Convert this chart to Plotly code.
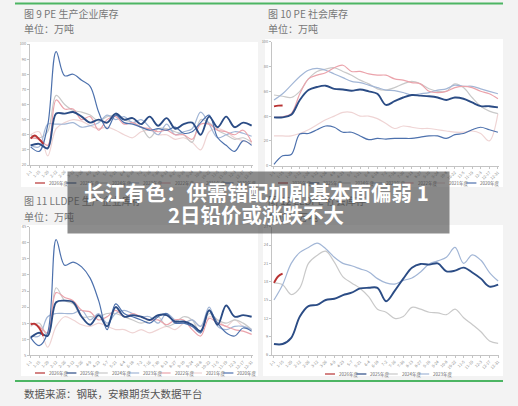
import plotly.graph_objects as go

W, H = 518, 406
FONT = "Noto Sans CJK SC"

# ---------------- data ----------------
weeks = list(range(1, 54, 2))          # 27 biweekly points
tick_labels = ["1-1", "1-15", "1-29", "2-12", "2-26", "3-12", "3-26", "4-9", "4-23",
               "5-7", "5-21", "6-4", "6-18", "7-2", "7-16", "7-30", "8-13", "8-27",
               "9-10", "9-24", "10-8", "10-22", "11-5", "11-19", "12-3", "12-17", "12-31"]

years7 = ["2026年度", "2025年度", "2024年度", "2023年度", "2022年度", "2021年度", "2020年度"]
years4 = ["2026年度", "2025年度", "2024年度", "2023年度"]

# Panel 1: PE production-enterprise inventory
p1_2026_weeks = [1, 2, 3, 4]
p1_2026 = [37.5, 39.5, 37, 34]
p1_2025 = [33, 34, 31, 54, 54, 55, 52, 48, 50, 48, 54, 50, 51, 47, 52, 46, 51, 44, 47, 48, 40, 52, 45, 52, 45, 48, 46]
p1_2024 = [40, 38, 42, 66, 60, 56, 55, 53, 49, 52, 53, 50, 48, 45, 38, 44, 44, 42, 40, 35, 50, 48, 43, 40, 37, 38, 35]
p1_2023 = [33, 32, 47, 47, 47, 48, 45, 46, 48, 53, 50, 52, 48, 50, 45, 40, 47, 40, 42, 44, 55, 47, 38, 40, 42, 41, 39]
p1_2022 = [38, 37, 33, 63, 57, 57, 50, 52, 43, 50, 52, 47, 48, 45, 44, 42, 43, 40, 40, 37, 47, 47, 43, 42, 40, 43, 35]
p1_2021 = [40, 42, 26, 44, 48, 50, 49, 46, 44, 45, 43, 40, 38, 42, 43, 40, 40, 37, 38, 35, 30, 42, 44, 42, 38, 36, 34]
p1_2020 = [32, 29, 46, 95, 79, 80, 76, 72, 55, 44, 53, 48, 47, 45, 43, 44, 43, 45, 41, 42, 48, 53, 38, 33, 29, 36, 33]

# Panel 2: PE social inventory
p2_2026_weeks = [1, 2, 3]
p2_2026 = [47.8, 48.4, 48.6]
p2_2025 = [39, 39, 41, 53, 61, 63.5, 64.5, 62, 61.5, 60.5, 61.5, 60, 58, 49, 52, 55, 57, 56.5, 56, 55, 53, 55, 54, 51, 48, 48, 47]
p2_2024 = [57, 56, 55, 60, 70, 76, 78, 79, 76, 73, 69, 66, 62, 61, 63, 66, 68, 66, 62, 60, 60, 66, 63, 55, 48, 44, 42]
p2_2023 = [53, 58, 65, 72, 77, 78.5, 77, 74, 71, 68, 67, 65, 63, 61, 60.5, 59, 57, 58, 59, 61, 62, 65, 64, 64, 62, 60, 58]
p2_2022 = [39, 39.5, 42, 58, 70, 73, 75, 79, 81, 76, 76, 74, 73, 73, 70, 69, 67, 66, 60, 59, 60, 63, 64, 63, 60, 58, 54]
p2_2021 = [24, 24, 24, 26, 29, 33, 37, 40, 43, 43, 40, 40, 38, 34, 30, 32, 31, 30, 30, 29, 28, 27, 27, 28, 26, 20, 42]
p2_2020 = [1, 8, 9, 25.5, 26, 29, 32, 31, 27, 27, 24, 21, 22, 21.5, 22, 22, 22, 23, 24, 24, 22, 25, 26, 29, 31, 29, 27]

# Panel 3: LLDPE production-enterprise inventory
p3_2026_weeks = [1, 2, 3, 4]
p3_2026 = [14.6, 14.8, 13.5, 11]
p3_2025 = [10.5, 12, 11, 21.5, 22, 21.5, 17, 14.5, 17.5, 14, 20, 17, 17.5, 17, 16, 17.5, 17.5, 15.5, 15.5, 14.5, 12.5, 19, 14.5, 20.5, 17, 17.5, 17]
p3_2024 = [14, 15, 11, 26, 22, 21, 17, 17, 17, 18, 18, 17, 16, 15, 16, 17, 14, 15, 17, 16, 12, 18, 16, 15, 16, 15, 13]
p3_2023 = [11, 11, 17, 18, 18, 18, 19, 16, 18, 15, 18, 19, 18, 17, 17, 15, 18, 16, 15, 16, 14, 20, 14, 13, 14, 14, 13]
p3_2022 = [15, 14, 12, 24.5, 23, 22, 19, 18.5, 16, 17, 19, 17, 18, 17, 16, 16, 14.5, 16, 16, 13, 11, 16.5, 15, 14, 13, 12.5, 11.5]
p3_2021 = [15, 14, 7.5, 14, 17, 16, 14.5, 14, 15, 14, 13, 13, 12, 13, 12, 13, 14, 13, 15, 16, 14, 17, 16, 14, 16, 14, 13]
p3_2020 = [10.5, 8, 12, 41, 33, 34, 32.5, 29, 22, 13, 21, 18, 17, 16, 15, 17, 18, 15, 15, 14, 12, 19, 15, 12, 11, 13.5, 12.5]

# Panel 4: LLDPE social inventory
p4_2026_weeks = [1, 2, 3]
p4_2026 = [17.8, 18.9, 19.3]
p4_2025 = [7.8, 7.8, 8.8, 12.3, 14, 14.2, 15, 15.2, 15.8, 16.2, 16.9, 17, 17, 14.8, 16.5, 18.5, 20.3, 20.9, 20.8, 21, 19.7, 19.8, 20.3, 19.5, 18.5, 17.2, 17.5]
p4_2024 = [17.8, 17.5, 15.9, 17, 21, 22.3, 23, 21.2, 18.8, 17.8, 16.9, 15.5, 13.5, 13, 12, 12.3, 13.8, 13.5, 13, 12.9, 12.6, 13.5, 12.1, 11, 9.8, 8.3, 7.9]
p4_2023 = [15, 17.5, 21, 22.8, 23.6, 24.3, 23.4, 22, 21, 20.6, 20.1, 19.6, 18.5, 17.8, 17.6, 18.2, 18.6, 19.6, 20.9, 21.4, 22, 23.6, 21, 22.4, 21.5, 19.5, 18.1]

titles = ["图 9 PE 生产企业库存", "图 10 PE 社会库存", "图 11 LLDPE 生产企业库存", "图 12 LLDPE 社会库存"]
unit_text = "单位：万吨"
source_text = "数据来源：钢联，安粮期货大数据平台"
headline = ["长江有色：供需错配加剧基本面偏弱 1", "2日铅价或涨跌不大"]

# ---------------- styles ----------------
colors = {"2026年度": "#b83232", "2025年度": "#2b4c85", "2024年度": "#c9c9c9",
          "2023年度": "#a2b6d6", "2022年度": "#eba3ab", "2021年度": "#efd4d4",
          "2020年度": "#4d71ad"}
widths = {"2026年度": 1.8, "2025年度": 1.8, "2024年default": 1.2}


def px(x):
    return x / W


def py(y):
    return 1 - y / H


fig = go.Figure()

panels = [
    dict(series={"2026年度": (p1_2026_weeks, p1_2026), "2025年度": (weeks, p1_2025),
                 "2024年度": (weeks, p1_2024), "2023年度": (weeks, p1_2023),
                 "2022年度": (weeks, p1_2022), "2021年度": (weeks, p1_2021),
                 "2020年度": (weeks, p1_2020)},
         xd=(30, 252.5), yd=(44, 165), yr=(20, 100), dt=10, xr=(0.85, 53.2),
         legend=years7, leg_x=35, leg_y=183),
    dict(series={"2026年度": (p2_2026_weeks, p2_2026), "2025年度": (weeks, p2_2025),
                 "2024年度": (weeks, p2_2024), "2023年度": (weeks, p2_2023),
                 "2022年度": (weeks, p2_2022), "2021年度": (weeks, p2_2021),
                 "2020年度": (weeks, p2_2020)},
         xd=(272, 499), yd=(41.7, 165.7), yr=(0, 100), dt=20, xr=(0.54, 53.25),
         legend=years7, leg_x=278, leg_y=183),
    dict(series={"2026年度": (p3_2026_weeks, p3_2026), "2025年度": (weeks, p3_2025),
                 "2024年度": (weeks, p3_2024), "2023年度": (weeks, p3_2023),
                 "2022年度": (weeks, p3_2022), "2021年度": (weeks, p3_2021),
                 "2020年度": (weeks, p3_2020)},
         xd=(30, 252.5), yd=(226.7, 355.3), yr=(5, 45), dt=5, xr=(0.85, 53.2),
         legend=years7, leg_x=35, leg_y=373),
    dict(series={"2026年度": (p4_2026_weeks, p4_2026), "2025年度": (weeks, p4_2025),
                 "2024年度": (weeks, p4_2024), "2023年度": (weeks, p4_2023)},
         xd=(272, 499), yd=(226.7, 355), yr=(6, 27), dt=3, xr=(0.54, 53.2),
         legend=years4, leg_x=325, leg_y=374),
]

draw_order = ["2021年度", "2024年度", "2023年度", "2022年度", "2020年度", "2025年度", "2026年度"]

shapes = []
annotations = []

# page decoration
panel_boxes = [(21, 42, 258, 187), (265, 39, 503, 187), (21, 225, 258, 376), (263, 225, 503, 376)]
for (x0, y0, x1, y1) in panel_boxes:
    shapes.append(dict(type="rect", xref="paper", yref="paper", x0=px(x0), x1=px(x1),
                       y0=py(y1), y1=py(y0), fillcolor="white", line=dict(width=0), layer="below"))
for gy in (3.5, 381):
    shapes.append(dict(type="line", xref="paper", yref="paper", x0=px(15), x1=px(503),
                       y0=py(gy), y1=py(gy), line=dict(color="#4cb563", width=2)))

for i, p in enumerate(panels):
    n = "" if i == 0 else str(i + 1)
    xa, ya = "x" + n, "y" + n
    for name in draw_order:
        if name not in p["series"]:
            continue
        xs, ys = p["series"][name]
        fig.add_trace(go.Scatter(
            x=xs, y=ys, mode="lines", name=name, xaxis=xa, yaxis=ya, showlegend=False,
            line=dict(color=colors[name], width=1.9 if name in ("2025年度", "2026年度") else 1.2,
                      shape="spline", smoothing=1.0),
            hoverinfo="skip"))
    axis_common = dict(showgrid=False, zeroline=False, showline=True, linecolor="#c4c4c4",
                       linewidth=0.8, ticks="outside", ticklen=2, tickcolor="#c4c4c4",
                       tickfont=dict(size=4, color="#888", family=FONT), automargin=False)
    fig.update_layout(**{
        "xaxis" + n: dict(domain=[px(p["xd"][0]), px(p["xd"][1])], range=list(p["xr"]),
                          anchor=ya, tickmode="array", tickvals=weeks, ticktext=tick_labels,
                          tickangle=-45, **axis_common),
        "yaxis" + n: dict(domain=[py(p["yd"][1]), py(p["yd"][0])], range=list(p["yr"]),
                          anchor=xa, dtick=p["dt"], tick0=p["yr"][0], **axis_common),
    })
    # manual legend
    for k, name in enumerate(p["legend"]):
        lx = p["leg_x"] + k * 31.4
        shapes.append(dict(type="line", xref="paper", yref="paper", x0=px(lx), x1=px(lx + 10),
                           y0=py(p["leg_y"]), y1=py(p["leg_y"]),
                           line=dict(color=colors[name], width=1.2)))
        annotations.append(dict(x=px(lx + 12), y=py(p["leg_y"]), xref="paper", yref="paper",
                                text=name, showarrow=False, xanchor="left", yanchor="middle",
                                font=dict(size=4.5, color="#666", family=FONT)))

# titles & units
title_pos = [(22, 13), (266, 13), (22, 200), (266, 200)]
for t, (tx, ty) in zip(titles, title_pos):
    annotations.append(dict(x=px(tx), y=py(ty), xref="paper", yref="paper", text=t,
                            showarrow=False, xanchor="left", yanchor="middle",
                            font=dict(size=10, color="#777", family=FONT)))
    annotations.append(dict(x=px(tx), y=py(ty + 16), xref="paper", yref="paper", text=unit_text,
                            showarrow=False, xanchor="left", yanchor="middle",
                            font=dict(size=10, color="#777", family=FONT)))

annotations.append(dict(x=px(22), y=py(393), xref="paper", yref="paper", text=source_text,
                        showarrow=False, xanchor="left", yanchor="middle",
                        font=dict(size=10.5, color="#555", family=FONT)))

# banner (semi-transparent box over the page)
annotations.append(dict(x=px((68 + 449) / 2), y=py((172 + 233) / 2), xref="paper", yref="paper",
                        text=" ", showarrow=False, width=381, height=61, borderpad=0,
                        bgcolor="rgba(70,70,70,0.62)", xanchor="center", yanchor="middle"))
for line_text, ly in zip(headline, (192, 214)):
    annotations.append(dict(x=px(256), y=py(ly), xref="paper", yref="paper", text="<b>" + line_text + "</b>",
                            showarrow=False, xanchor="center", yanchor="middle",
                            font=dict(size=20.5, color="white", family=FONT)))

fig.update_layout(width=W, height=H, margin=dict(l=0, r=0, t=0, b=0),
                  paper_bgcolor="#f3f3f3", plot_bgcolor="rgba(0,0,0,0)",
                  showlegend=False, shapes=shapes, annotations=annotations)

fig.write_html("out.html", config={"displayModeBar": False})
